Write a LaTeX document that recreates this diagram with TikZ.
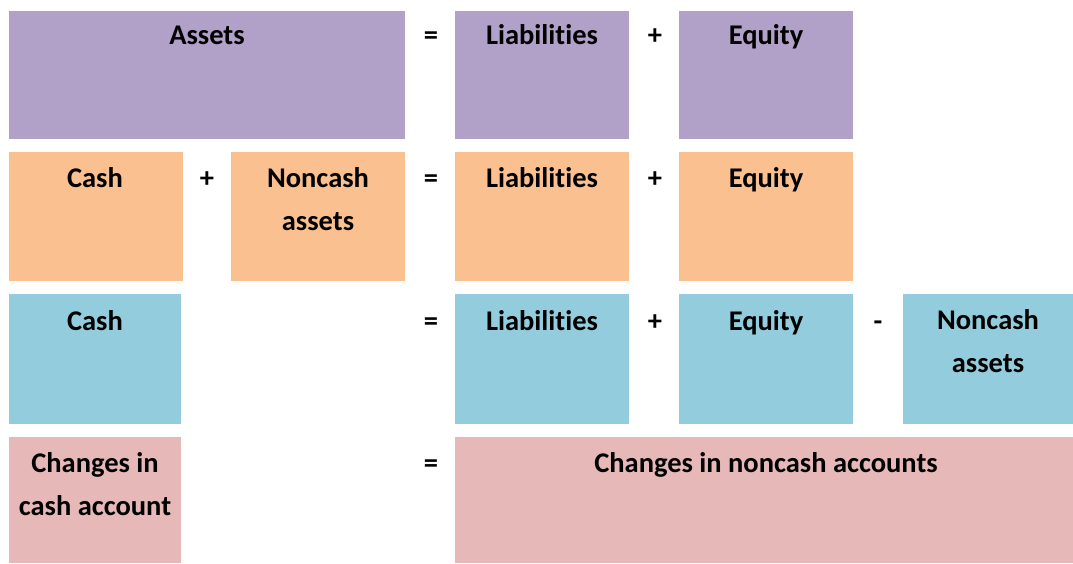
\documentclass[tikz,border=0pt]{standalone}
\usepackage{fontspec}
\setmainfont{Carlito}[Ligatures=NoCommon]
\definecolor{cpurple}{HTML}{B1A0C7}
\definecolor{corange}{HTML}{FAC090}
\definecolor{cblue}{HTML}{93CDDD}
\definecolor{cpink}{HTML}{E6B8B7}
\tikzset{
  box/.style={anchor=north west, inner sep=0pt, outer sep=0pt, fill=#1},
  lbl/.style={anchor=base, inner sep=0pt, align=center, font=\fontsize{28.5}{43}\selectfont\bfseries},
  op/.style={anchor=base, inner sep=0pt, font=\fontsize{28.5}{43}\selectfont\bfseries},
}
\begin{document}
\begin{tikzpicture}[x=1pt,y=-1pt]
\useasboundingbox (0,0) rectangle (1073,563);
% row 1
\node[box=cpurple, minimum width=396pt, minimum height=128pt] (a1) at (9,11) {};
\node[box=cpurple, minimum width=174pt, minimum height=128pt] (l1) at (455,11) {};
\node[box=cpurple, minimum width=174pt, minimum height=128pt] (e1) at (679,11) {};
% row 2
\node[box=corange, minimum width=174pt, minimum height=129pt] (c2) at (9,152) {};
\node[box=corange, minimum width=174pt, minimum height=129pt] (n2) at (231,152) {};
\node[box=corange, minimum width=174pt, minimum height=129pt] (l2) at (455,152) {};
\node[box=corange, minimum width=174pt, minimum height=129pt] (e2) at (679,152) {};
% row 3
\node[box=cblue, minimum width=172pt, minimum height=130pt] (c3) at (9,294) {};
\node[box=cblue, minimum width=174pt, minimum height=130pt] (l3) at (455,294) {};
\node[box=cblue, minimum width=174pt, minimum height=130pt] (e3) at (679,294) {};
\node[box=cblue, minimum width=170pt, minimum height=130pt] (n3) at (903,294) {};
% row 4
\node[box=cpink, minimum width=172pt, minimum height=126pt] (c4) at (9,437) {};
\node[box=cpink, minimum width=618pt, minimum height=126pt] (n4) at (455,437) {};
% labels row 1
\node[lbl] (ta1) at (207,44) {Assets};
\node[lbl] (tl1) at (542,44) {Liabilities};
\node[lbl] (te1) at (766,44) {Equity};
\node[op] (o11) at (431,44) {=};
\node[op] (o12) at (655,44) {+};
% labels row 2
\node[lbl] (tc2) at (95,187) {Cash};
\node[lbl] (tn2) at (318,230) {Noncash\\assets};
\node[lbl] (tl2) at (542,187) {Liabilities};
\node[lbl] (te2) at (766,187) {Equity};
\node[op] (o21) at (207,187) {+};
\node[op] (o22) at (431,187) {=};
\node[op] (o23) at (655,187) {+};
% labels row 3
\node[lbl] (tc3) at (95,330) {Cash};
\node[lbl] (tl3) at (542,330) {Liabilities};
\node[lbl] (te3) at (766,330) {Equity};
\node[lbl] (tn3) at (988,372) {Noncash\\assets};
\node[op] (o31) at (431,330) {=};
\node[op] (o32) at (655,330) {+};
\node[op] (o33) at (878,330) {-};
% labels row 4
\node[lbl] (tc4) at (95,515) {Changes in\\cash account};
\node[lbl] (tn4) at (766,472) {Changes in noncash accounts};
\node[op] (o41) at (431,472) {=};
\end{tikzpicture}
\end{document}
